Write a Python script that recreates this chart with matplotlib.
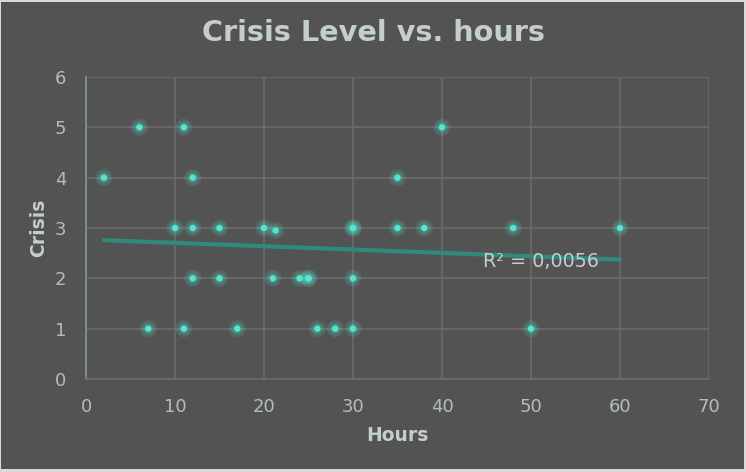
import matplotlib
matplotlib.use("Agg")
import matplotlib.pyplot as plt
import numpy as np

hours = [6, 11, 40,
         2, 12, 35,
         10, 12, 15, 20, 21.3, 30, 30, 35, 38, 48, 60,
         12, 15, 21, 24, 25, 25, 30,
         7, 11, 17, 26, 28, 30, 50]
crisis = [5, 5, 5,
          4, 4, 4,
          3, 3, 3, 3, 2.95, 3, 3, 3, 3, 3, 3,
          2, 2, 2, 2, 2, 2, 2,
          1, 1, 1, 1, 1, 1, 1]
r2_label = "R² = 0,0056"
xticks = [0, 10, 20, 30, 40, 50, 60, 70]
yticks = [0, 1, 2, 3, 4, 5, 6]

bg = "#535353"
txt = "#c5cece"
tick_c = "#b3bdbd"
grid_c = "#6b6b6b"
pt = "#52e6cf"

fig = plt.figure(figsize=(7.46, 4.72), dpi=100, facecolor="#d9d9d9")
fig.patches.append(plt.Rectangle((1/746, 3/472), 743/746, 467/472, transform=fig.transFigure,
                                 facecolor=bg, edgecolor="none", zorder=-10))
ax = fig.add_axes([86/746, 93/472, 623/746, 302/472])
ax.set_facecolor(bg)

x = np.array(hours, dtype=float)
y = np.array(crisis, dtype=float)
# glow
ax.scatter(x, y, s=150, color=pt, alpha=0.15, edgecolors="none", zorder=3)
ax.scatter(x, y, s=70, color=pt, alpha=0.18, edgecolors="none", zorder=3)
ax.scatter(x, y, s=22, color=pt, edgecolors="none", zorder=4)

m, b = np.polyfit(x, y, 1)
xl = np.array([x.min(), x.max()])
ax.plot(xl, m * xl + b, color="#2f8a7a", lw=3, solid_capstyle="round", zorder=2)
ax.text(44.6, 2.33, r2_label, color=txt, fontsize=13.8, ha="left", va="center", zorder=5)

ax.set_xlim(0, 70)
ax.set_ylim(0, 6)
ax.set_xticks(xticks)
ax.set_yticks(yticks)
ax.grid(True, color=grid_c, lw=1.2)
ax.set_axisbelow(True)
for s in ["top", "right"]:
    ax.spines[s].set_visible(False)
ax.spines["left"].set_color("#7f9999")
ax.spines["left"].set_linewidth(1.2)
ax.spines["bottom"].set_color(grid_c)
ax.spines["bottom"].set_linewidth(1.2)
ax.tick_params(length=0, colors=tick_c, labelsize=13)
ax.tick_params(axis="x", pad=14)
ax.tick_params(axis="y", pad=14)

ax.set_xlabel("Hours", color=txt, fontsize=13.5, fontweight="bold", labelpad=7)
ax.set_ylabel("Crisis", color=txt, fontsize=13.5, fontweight="bold", labelpad=5)
fig.text(0.5, 1 - 33/472, "Crisis Level vs. hours", color=txt,
         fontsize=20.7, fontweight="bold", ha="center", va="center")

fig.savefig("out.png", dpi=100, facecolor=fig.get_facecolor())
